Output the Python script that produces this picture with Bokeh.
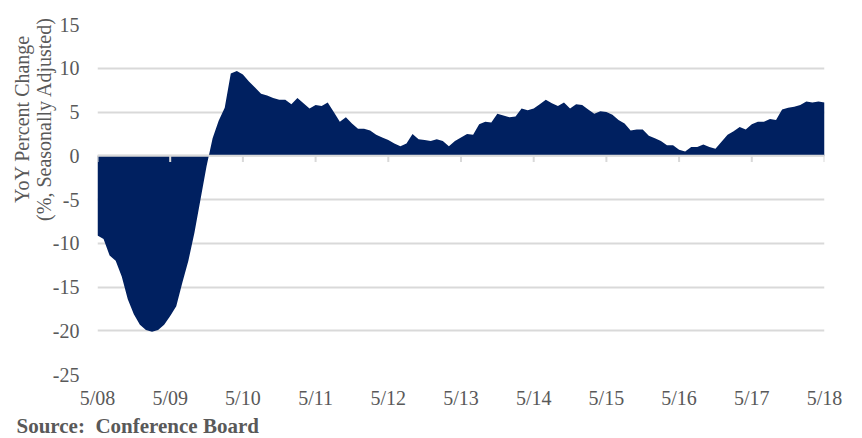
import math
from bokeh.plotting import figure
from bokeh.models import Range1d, FixedTicker, Span, Title, Label
from bokeh.embed import file_html
from bokeh.resources import INLINE

# YoY percent change (%, seasonally adjusted), monthly from 5/08 to 5/18
values = [
    -9.1, -9.5, -11.4, -12.0, -13.8, -16.4, -18.1, -19.3, -19.9, -20.1, -19.9, -19.3,
    -18.3, -17.2, -14.5, -12.0, -8.8, -5.0, -1.2, 2.0, 4.0, 5.5, 9.4, 9.7,
    9.3, 8.5, 7.8, 7.1, 6.9, 6.6, 6.4, 6.4, 5.9, 6.6, 6.0, 5.4,
    5.8, 5.7, 6.1, 5.0, 3.9, 4.4, 3.7, 3.1, 3.1, 2.9, 2.4, 2.1,
    1.8, 1.4, 1.1, 1.4, 2.5, 1.9, 1.8, 1.7, 1.9, 1.7, 1.1, 1.7,
    2.1, 2.5, 2.4, 3.6, 3.9, 3.8, 4.8, 4.6, 4.4, 4.5, 5.4, 5.2,
    5.4, 5.9, 6.4, 6.0, 5.7, 6.1, 5.4, 5.9, 5.8, 5.3, 4.8, 5.1,
    5.0, 4.7, 4.1, 3.7, 2.9, 3.0, 3.0, 2.3, 2.0, 1.7, 1.2, 1.2,
    0.7, 0.5, 1.0, 1.0, 1.3, 1.0, 0.8, 1.6, 2.4, 2.8, 3.3, 3.0,
    3.6, 3.9, 3.9, 4.2, 4.1, 5.3, 5.5, 5.6, 5.8, 6.2, 6.1, 6.2,
    6.1,
]
months = list(range(len(values)))

x_tick_months = [0, 12, 24, 36, 48, 60, 72, 84, 96, 108, 120]
x_tick_labels = ["5/08", "5/09", "5/10", "5/11", "5/12", "5/13", "5/14", "5/15", "5/16", "5/17", "5/18"]
y_ticks = [-25, -20, -15, -10, -5, 0, 5, 10, 15]
y_tick_labels = ["-25", "-20", "-15", "-10", "-5", "0", "5", "10", "15"]

y_title_1 = "YoY Percent Change"
y_title_2 = "(%, Seasonally Adjusted)"
source_text = "Source:\u00a0 Conference Board"

NAVY = "#002060"
GRID = "#d9d9d9"
TEXT = "#595959"
FONT = "Liberation Serif"

p = figure(width=856, height=437, output_backend="svg", toolbar_location=None,
           x_range=Range1d(0, 120), y_range=Range1d(-25, 15),
           min_border_left=97, min_border_right=32, min_border_top=24, min_border_bottom=62)
p.outline_line_color = None
p.background_fill_color = "white"
p.border_fill_color = "white"

p.xgrid.visible = False
p.ygrid.ticker = FixedTicker(ticks=y_ticks)
p.ygrid.grid_line_color = GRID
p.ygrid.grid_line_width = 2

p.varea(x=months, y1=0, y2=values, fill_color=NAVY)

p.add_layout(Span(location=0, dimension="width", line_color=GRID, line_width=2, level="overlay"))
p.segment(x0=x_tick_months, y0=0, x1=x_tick_months, y1=-0.7, line_color=GRID, line_width=2)

p.yaxis.ticker = FixedTicker(ticks=y_ticks)
p.yaxis.major_label_overrides = dict(zip(y_ticks, y_tick_labels))
p.yaxis.axis_line_color = None
p.yaxis.major_tick_line_color = None
p.yaxis.minor_tick_line_color = None
p.yaxis.major_tick_out = 0
p.yaxis.major_tick_in = 0
p.yaxis.major_label_standoff = 18
p.yaxis.major_label_text_font = FONT
p.yaxis.major_label_text_font_size = "20px"
p.yaxis.major_label_text_color = TEXT

p.xaxis.ticker = FixedTicker(ticks=x_tick_months)
p.xaxis.major_label_overrides = dict(zip(x_tick_months, x_tick_labels))
p.xaxis.axis_line_color = None
p.xaxis.major_tick_line_color = None
p.xaxis.minor_tick_line_color = None
p.xaxis.major_tick_out = 0
p.xaxis.major_tick_in = 0
p.xaxis.major_label_standoff = 12
p.xaxis.major_label_text_font = FONT
p.xaxis.major_label_text_font_size = "20px"
p.xaxis.major_label_text_color = TEXT

# y-axis title: two lines, placed in the left side panel (not clipped to the frame)
for txt, xs in ((y_title_1, -12.38), (y_title_2, -8.91)):
    p.add_layout(Label(x=xs, y=4.2, text=txt,
                       angle=math.pi / 2, text_align="center", text_baseline="middle",
                       text_font=FONT, text_font_size="20px", text_color=TEXT), "left")

# source note below the axis
p.add_layout(Title(text=source_text, align="left", offset=-81, vertical_align="bottom", standoff=0,
                   text_font=FONT, text_font_style="bold", text_font_size="21px",
                   text_color=TEXT), "below")

open("out.html", "w").write(file_html(p, INLINE))
